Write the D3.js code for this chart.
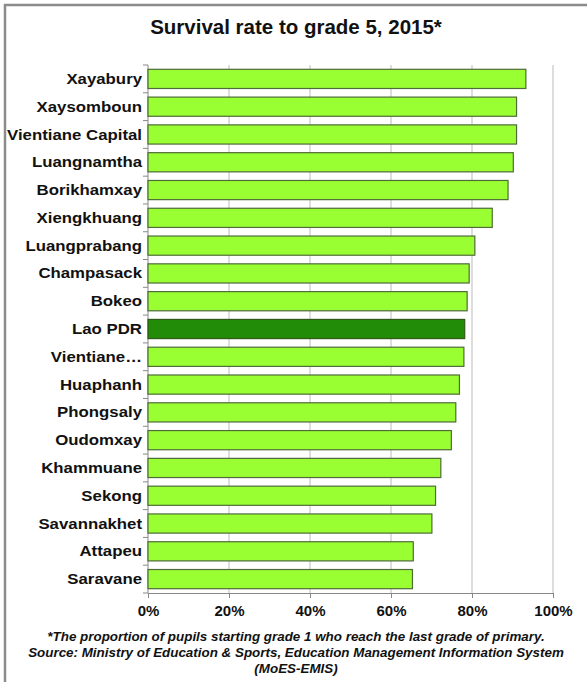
<!DOCTYPE html>
<html>
<head>
<meta charset="utf-8">
<script src="https://cdn.jsdelivr.net/npm/d3@7"></script>
<style>
  html, body { margin: 0; padding: 0; background: #fff; }
  text { font-family: Arial, "Liberation Sans", sans-serif; }
</style>
</head>
<body>
<div id="chart"></div>
<script>
// data
var provinces = ['Xayabury', 'Xaysomboun', 'Vientiane Capital', 'Luangnamtha', 'Borikhamxay',
  'Xiengkhuang', 'Luangprabang', 'Champasack', 'Bokeo', 'Lao PDR', 'Vientiane\u2026',
  'Huaphanh', 'Phongsaly', 'Oudomxay', 'Khammuane', 'Sekong', 'Savannakhet', 'Attapeu', 'Saravane'];
var survival = [93.3, 91.0, 91.0, 90.2, 88.9, 85.0, 80.7, 79.3, 78.8, 78.2, 78.0,
  76.9, 76.0, 74.9, 72.3, 71.0, 70.1, 65.5, 65.3];
var xTicks = [0, 20, 40, 60, 80, 100];
var highlight = 'Lao PDR';

var W = 587, H = 682;
var m = { left: 148, right: 34, top: 65, bottom: 89 };

var svg = d3.select('#chart').append('svg').attr('width', W).attr('height', H);

// frame (top + left only, as in the picture)
svg.append('line').attr('x1', 4).attr('x2', W).attr('y1', 5).attr('y2', 5).attr('stroke', '#8c8c8c').attr('stroke-width', 2.5);
svg.append('line').attr('x1', 5).attr('x2', 5).attr('y1', 4).attr('y2', H).attr('stroke', '#8c8c8c').attr('stroke-width', 2.5);

svg.append('text').attr('x', 296).attr('y', 34).attr('text-anchor', 'middle')
  .attr('font-size', '20.5px').attr('font-weight', '700').attr('fill', '#111')
  .text('Survival rate to grade 5, 2015*');

var x = d3.scaleLinear().domain([0, 100]).range([m.left, W - m.right]);
var y = d3.scaleBand().domain(provinces).range([m.top, H - m.bottom]).paddingInner(0.31).paddingOuter(0.155);

// gridlines
svg.append('g').selectAll('line').data(xTicks.slice(1)).join('line')
  .attr('x1', function(d) { return x(d); }).attr('x2', function(d) { return x(d); })
  .attr('y1', m.top).attr('y2', H - m.bottom)
  .attr('stroke', '#c6c6c6').attr('stroke-width', 1.2);

// y category ticks between bands
var step = y.step();
svg.append('g').selectAll('line').data(d3.range(provinces.length + 1)).join('line')
  .attr('x1', m.left - 5).attr('x2', m.left)
  .attr('y1', function(i) { return m.top + i * step; }).attr('y2', function(i) { return m.top + i * step; })
  .attr('stroke', '#888');
svg.append('line').attr('x1', m.left).attr('x2', m.left).attr('y1', m.top).attr('y2', H - m.bottom).attr('stroke', '#888');

// bars
svg.append('g').selectAll('rect').data(provinces).join('rect')
  .attr('x', x(0))
  .attr('y', function(d) { return y(d); })
  .attr('width', function(d, i) { return x(survival[i]) - x(0); })
  .attr('height', y.bandwidth())
  .attr('fill', function(d) { return d === highlight ? '#228b08' : '#99ff33'; })
  .attr('stroke', function(d) { return d === highlight ? '#2f5a1c' : '#4f6b38'; })
  .attr('stroke-width', 1.2);

// category labels (the source text is a bit wide, so stretch it horizontally)
svg.append('g').selectAll('text').data(provinces).join('text')
  .attr('transform', function(d) { return 'translate(' + (m.left - 6) + ',' + (y(d) + y.bandwidth() / 2) + ') scale(1.2,1)'; })
  .attr('dy', '0.36em').attr('text-anchor', 'end')
  .attr('font-size', '14px').attr('font-weight', '700').attr('fill', '#111')
  .text(function(d) { return d; });

// x axis
var xAxis = svg.append('g').attr('transform', 'translate(0,' + (H - m.bottom) + ')')
  .call(d3.axisBottom(x).tickValues(xTicks).tickSize(5).tickFormat(function(d) { return d + '%'; }));
xAxis.select('.domain').attr('stroke', '#888');
xAxis.selectAll('.tick line').attr('stroke', '#888');
xAxis.selectAll('.tick text').attr('font-size', '15px').attr('font-weight', '700').attr('fill', '#111')
  .attr('font-family', 'Arial, "Liberation Sans", sans-serif').attr('dy', '1.0em');

// footnote
var notes = ['*The proportion of pupils starting grade 1 who reach the last grade of primary.',
  'Source: Ministry of Education & Sports, Education Management Information System',
  '(MoES-EMIS)'];
svg.append('g').selectAll('text').data(notes).join('text')
  .attr('x', 296).attr('y', function(d, i) { return 641 + i * 16; })
  .attr('text-anchor', 'middle').attr('font-size', '13.4px').attr('font-weight', '700')
  .attr('font-style', 'italic').attr('fill', '#111')
  .text(function(d) { return d; });
</script>
</body>
</html>
